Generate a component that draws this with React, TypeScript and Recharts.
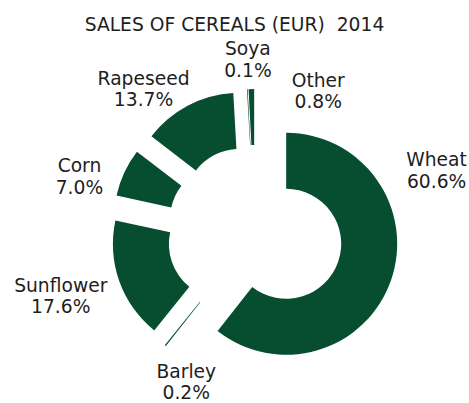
import { PieChart, Pie, Cell, Sector } from 'recharts'

const crops = ['Wheat', 'Barley', 'Sunflower', 'Corn', 'Rapeseed', 'Soya', 'Other']
const shares = [60.6, 0.2, 17.6, 7.0, 13.7, 0.1, 0.8]

const data = crops.map((name, i) => ({ name, value: shares[i] }))

const GREEN = '#064E2F'
const TEXT = '#1e1e1e'
const FONT = '"DejaVu Sans", Verdana, sans-serif'
const FONT_SIZE = 18.7
const EXPLODE = 33
const RADIAN = Math.PI / 180

// hand placed labels in the original, nudged from the radial spot
const LABEL_NUDGE: Record<string, [number, number]> = {
  Wheat: [3, -124],
  Barley: [49, 1],
  Sunflower: [-16, 0],
  Corn: [-4, 23],
  Rapeseed: [-23, 23],
  Soya: [3, 15],
  Other: [68, 47]
}

const dir = (midAngle: number) => [Math.cos(-midAngle * RADIAN), Math.sin(-midAngle * RADIAN)]

const ExplodedSector = (props: any) => {
  const [dx, dy] = dir(props.midAngle)
  return <Sector {...props} cx={props.cx + dx * EXPLODE} cy={props.cy + dy * EXPLODE} stroke="none" />
}

const renderLabel = (props: any) => {
  const { cx, cy, midAngle, outerRadius, name, value } = props
  const [dx, dy] = dir(midAngle)
  const r = EXPLODE + outerRadius + 45
  const [nx, ny] = LABEL_NUDGE[name] || [0, 0]
  const x = cx + dx * r + nx
  const y = cy + dy * r + ny
  return (
    <text x={x} y={y - 4} textAnchor="middle" fill={TEXT} fontSize={FONT_SIZE} fontFamily={FONT}>
      <tspan x={x} y={y - 4.3}>{name}</tspan>
      <tspan x={x} y={y + 17.3}>{value.toFixed(1)}%</tspan>
    </text>
  )
}

export default function App() {
  return (
    <div style={{ position: 'absolute', left: 0, top: 0, width: 469, height: 403, background: '#fff' }}>
      <div
        style={{
          position: 'absolute',
          top: 13.5,
          left: 0,
          width: 469,
          textAlign: 'center',
          fontFamily: FONT,
          fontSize: FONT_SIZE,
          lineHeight: '22px',
          color: TEXT,
          whiteSpace: 'pre'
        }}
      >
        {'SALES OF CEREALS (EUR)  2014'}
      </div>
      <PieChart
        width={469}
        height={403}
        margin={{ top: 0, right: 0, bottom: 0, left: 0 }}
        style={{ position: 'absolute', left: 0, top: 0 }}
      >
        <Pie
          data={data}
          dataKey="value"
          nameKey="name"
          cx={255}
          cy={233}
          innerRadius={55}
          outerRadius={111}
          startAngle={90}
          endAngle={-270}
          stroke="none"
          shape={ExplodedSector}
          activeShape={ExplodedSector}
          label={renderLabel}
          labelLine={false}
          isAnimationActive={false}
        >
          {data.map((d) => (
            <Cell key={d.name} fill={GREEN} />
          ))}
        </Pie>
      </PieChart>
    </div>
  )
}
